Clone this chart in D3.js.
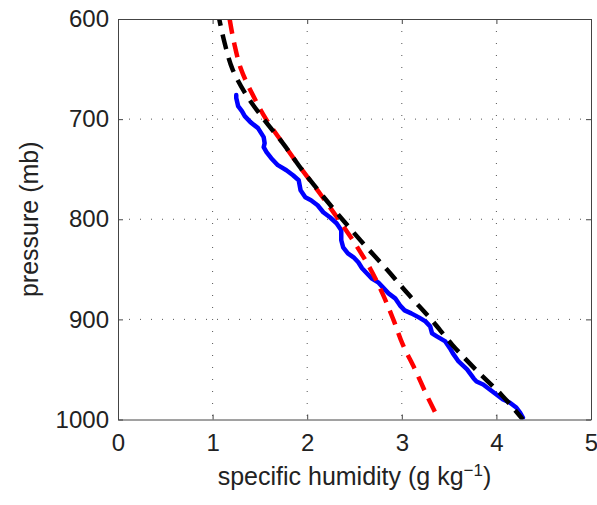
<!DOCTYPE html>
<html>
<head>
<meta charset="utf-8">
<script src="https://cdn.jsdelivr.net/npm/d3@7"></script>
<style>
  body { margin: 0; background: #fff; }
  text { font-family: "Liberation Sans", Arial, sans-serif; fill: #222; }
</style>
</head>
<body>
<div id="chart"></div>
<script>
// profile 1 (black dashed)
const pBlack = [600, 625, 650, 675, 700, 725, 750, 775, 800, 825, 850, 875, 900, 925, 950, 975, 1000];
const qBlack = [1.07, 1.13, 1.21, 1.35, 1.54, 1.75, 1.94, 2.15, 2.37, 2.60, 2.84, 3.07, 3.31, 3.53, 3.78, 4.05, 4.28];

// profile 2 (red dashed)
const pRed = [600, 625, 650, 675, 700, 725, 750, 775, 800, 825, 850, 875, 900, 925, 950, 975, 1000];
const qRed = [1.18, 1.23, 1.30, 1.42, 1.565, 1.75, 1.94, 2.14, 2.33, 2.51, 2.67, 2.80, 2.91, 3.01, 3.14, 3.26, 3.39];

// observed (blue solid)
const pObs = [676, 679, 687, 692, 697, 703, 709, 718, 724, 728, 733, 739, 746, 751, 756, 761, 771, 778,
              781, 786, 793, 798, 804, 811, 821, 828, 834, 838, 843, 849, 854, 859, 863, 868, 874, 879,
              886, 891, 894, 898, 902, 907, 914, 917, 922, 929, 934, 942, 950, 959, 962, 965, 970, 975,
              980, 983, 988, 993, 998];
const qObs = [1.25, 1.25, 1.27, 1.31, 1.34, 1.40, 1.48, 1.54, 1.55, 1.54, 1.57, 1.62, 1.69, 1.78, 1.85, 1.91, 1.93, 1.98,
              2.04, 2.11, 2.17, 2.24, 2.31, 2.36, 2.36, 2.38, 2.43, 2.49, 2.54, 2.58, 2.63, 2.68, 2.75, 2.80, 2.86, 2.93,
              2.98, 3.03, 3.10, 3.18, 3.25, 3.30, 3.32, 3.37, 3.46, 3.51, 3.54, 3.60, 3.69, 3.76, 3.79, 3.86, 3.93, 4.00,
              4.07, 4.14, 4.21, 4.25, 4.28];

const xTicks = [0, 1, 2, 3, 4, 5];
const yTicks = [600, 700, 800, 900, 1000];

const width = 597, height = 505;
const margin = { top: 19, right: 6, bottom: 85.5, left: 118 };
const iw = width - margin.left - margin.right;
const ih = height - margin.top - margin.bottom;

const x = d3.scaleLinear().domain([0, 5]).range([0, iw]);
const y = d3.scaleLinear().domain([600, 1000]).range([0, ih]);

const svg = d3.select("#chart").append("svg")
    .attr("width", width)
    .attr("height", height);

const g = svg.append("g").attr("transform", `translate(${margin.left},${margin.top})`);

g.append("clipPath").attr("id", "clip")
    .append("rect").attr("width", iw).attr("height", ih);

// dotted grid
g.append("g").selectAll("line")
    .data(xTicks.slice(1, -1))
    .enter().append("line")
    .attr("x1", d => x(d)).attr("x2", d => x(d))
    .attr("y1", 0).attr("y2", ih)
    .attr("stroke", "#555").attr("stroke-width", 1)
    .attr("stroke-dasharray", "1,11");

g.append("g").selectAll("line")
    .data(yTicks.slice(1, -1))
    .enter().append("line")
    .attr("x1", 0).attr("x2", iw)
    .attr("y1", d => y(d)).attr("y2", d => y(d))
    .attr("stroke", "#555").attr("stroke-width", 1)
    .attr("stroke-dasharray", "1,10");

// lines
const lines = g.append("g").attr("clip-path", "url(#clip)");

const obsLine = d3.line().x(d => x(d[1])).y(d => y(d[0])).curve(d3.curveLinear);
const modelLine = d3.line().x(d => x(d[1])).y(d => y(d[0])).curve(d3.curveMonotoneY);

lines.append("path")
    .datum(pObs.map((p, i) => [p, qObs[i]]))
    .attr("d", obsLine)
    .attr("fill", "none")
    .attr("stroke", "#0000ff")
    .attr("stroke-width", 4.5)
    .attr("stroke-linejoin", "round")
    .attr("stroke-linecap", "round");

lines.append("path")
    .datum(pRed.map((p, i) => [p, qRed[i]]))
    .attr("d", modelLine)
    .attr("fill", "none")
    .attr("stroke", "#ff0000")
    .attr("stroke-width", 4.5)
    .attr("stroke-dasharray", "15,9");

lines.append("path")
    .datum(pBlack.map((p, i) => [p, qBlack[i]]))
    .attr("d", modelLine)
    .attr("fill", "none")
    .attr("stroke", "#000")
    .attr("stroke-width", 4.5)
    .attr("stroke-dasharray", "15,9")
    .attr("stroke-dashoffset", 8);

// axes (ticks inward, box on)
function styleAxis(sel) {
    sel.selectAll("path, line").attr("stroke", "#444");
    sel.selectAll("text").attr("font-size", 24).attr("fill", "#222")
        .style("font-family", '"Liberation Sans", Arial, sans-serif');
}

g.append("g").attr("transform", `translate(0,${ih})`)
    .call(d3.axisBottom(x).tickValues(xTicks).tickFormat(d3.format("d")).tickSize(-5).tickPadding(14).tickSizeOuter(0))
    .call(styleAxis);

g.append("g")
    .call(d3.axisTop(x).tickValues(xTicks).tickFormat("").tickSize(-5).tickSizeOuter(0))
    .call(styleAxis);

g.append("g")
    .call(d3.axisLeft(y).tickValues(yTicks).tickFormat(d3.format("d")).tickSize(-5).tickPadding(9).tickSizeOuter(0))
    .call(styleAxis);

g.append("g").attr("transform", `translate(${iw},0)`)
    .call(d3.axisRight(y).tickValues(yTicks).tickFormat("").tickSize(-5).tickSizeOuter(0))
    .call(styleAxis);

// axis titles
const xl = svg.append("text")
    .attr("x", margin.left + iw / 2)
    .attr("y", 485)
    .attr("text-anchor", "middle")
    .attr("font-size", 25);
xl.append("tspan").text("specific humidity (g kg");
xl.append("tspan").attr("dy", -9).attr("font-size", 17).text("\u22121");
xl.append("tspan").attr("dy", 9).text(")");

svg.append("text")
    .attr("transform", `translate(38,${margin.top + ih / 2}) rotate(-90)`)
    .attr("text-anchor", "middle")
    .attr("font-size", 25)
    .text("pressure (mb)");
</script>
</body>
</html>
